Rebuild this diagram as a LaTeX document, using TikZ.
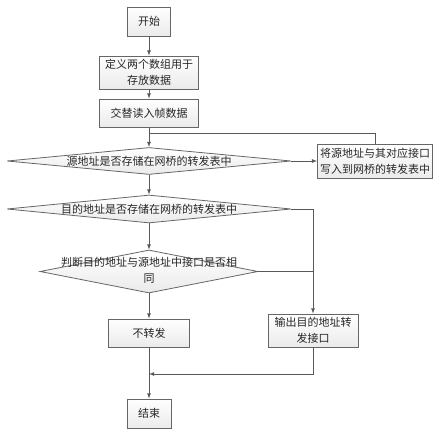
\documentclass[tikz,border=0pt]{standalone}
\usepackage{fontspec}
\newfontfamily\cjk{Noto Sans CJK SC}
\usetikzlibrary{shapes.geometric}

\tikzstyle{line} = [draw=black!65, line width=0.8pt]
\tikzstyle{arw} = [line, ->, >=latex]
\tikzstyle{box} = [draw=black!60, line width=0.8pt, top color=white, bottom color=black!8,
  font=\cjk\fontsize{11}{16}\selectfont, text=black!85, align=center, inner sep=1pt]
\tikzstyle{dia} = [box, diamond, inner sep=0pt]
\newcommand{\dtext}[1]{\makebox[0pt]{#1}}

\begin{document}
\begin{tikzpicture}[x=1pt,y=-1pt]
\useasboundingbox (0,0) rectangle (437,436);

\node[box, minimum width=43, minimum height=29] (start) at (149,21.5) {开始};
\node[box, minimum width=99, minimum height=33] (def) at (149,72.5) {定义两个数组用于\\存放数据};
\node[box, minimum width=99, minimum height=28] (read) at (149,113) {交替读入帧数据};
\node[dia, minimum width=284, minimum height=27] (d1) at (149,161) {\dtext{源地址是否存储在网桥的转发表中}};
\node[box, minimum width=115, minimum height=34] (upd) at (375,161) {将源地址与其对应接口\\写入到网桥的转发表中};
\node[dia, minimum width=284, minimum height=28] (d2) at (149,209) {\dtext{目的地址是否存储在网桥的转发表中}};
\node[dia, minimum width=218, minimum height=43] (d3) at (149,271.5)
  {\dtext{\begin{tabular}{@{}c@{}}判断目的地址与源地址中接口是否相\\同\end{tabular}}};
\node[box, minimum width=81, minimum height=28] (drop) at (149,333) {不转发};
\node[box, minimum width=90, minimum height=33] (out) at (313,330.5) {输出目的地址转\\发接口};
\node[box, minimum width=44, minimum height=29] (end) at (149,413.5) {结束};

\coordinate (br) at (149,133.5);
\coordinate (join) at (149,374);

\draw[arw] (start) -- (def);
\draw[arw] (def) -- (read);
\draw[arw] (read) -- (d1.north);
\draw[line] (br) -| (upd.north);
\draw[arw] (d1.east) -- (upd.west);
\draw[arw] (d1.south) -- (d2.north);
\draw[arw] (d2.east) -| (out.north);
\draw[arw] (d2.south) -- (d3.north);
\draw[line] (d3.east) -- (d3.east -| out.north);
\draw[arw] (d3.south) -- (drop.north);
\draw[arw] (drop) -- (end);
\draw[arw] (out.south) |- (join);

\end{tikzpicture}
\end{document}
